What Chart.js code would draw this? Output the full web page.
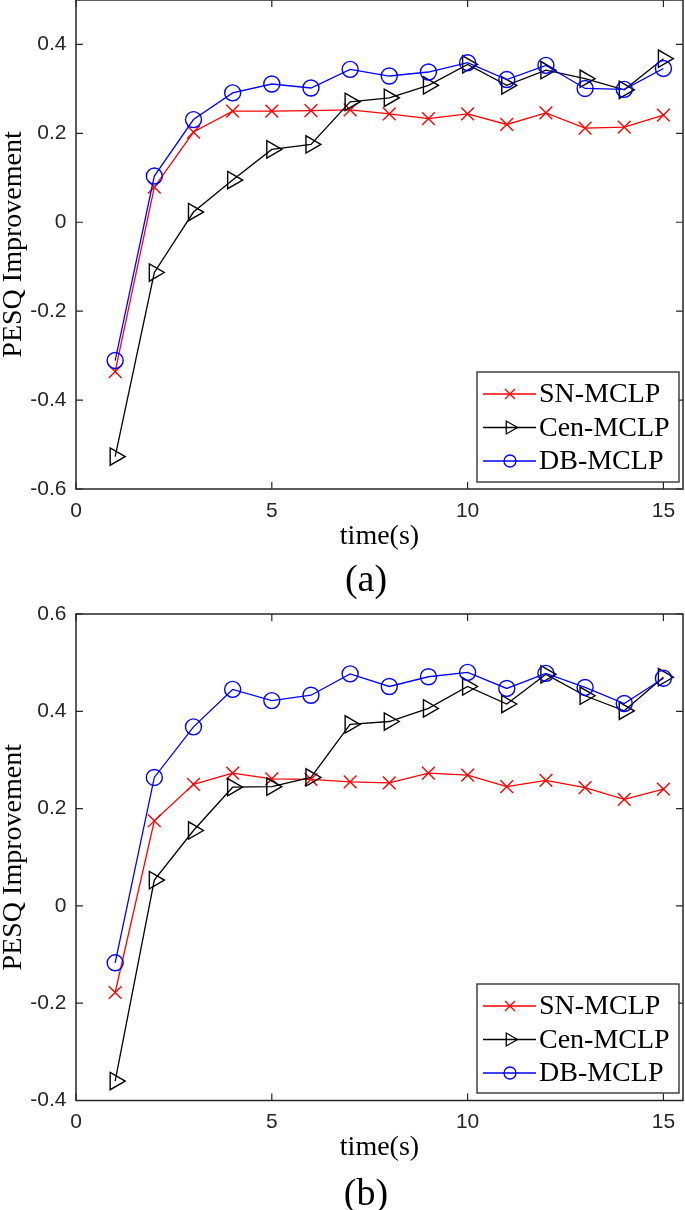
<!DOCTYPE html>
<html><head><meta charset="utf-8">
<script src="https://cdn.jsdelivr.net/npm/chart.js@4/dist/chart.umd.min.js"></script>
<style>
html,body{margin:0;padding:0;background:#fff;}
body{width:685px;height:1210px;position:relative;overflow:hidden;}
.wrap{position:absolute;left:0;width:685px;}
canvas{display:block;}
.cap{position:absolute;left:266px;width:200px;text-align:center;font-family:"Liberation Serif",serif;font-size:38px;color:#000;line-height:38px;}
</style></head><body>
<div class="wrap" style="top:0"><canvas id="ca" width="685" height="600"></canvas></div>
<div class="wrap" style="top:600px"><canvas id="cb" width="685" height="610"></canvas></div>
<div class="cap" style="top:559px">(a)</div>
<div class="cap" style="top:1173px">(b)</div>
<script>
// ---- data ----
const times = [1,2,3,4,5,6,7,8,9,10,11,12,13,14,15];
const seriesNames = ['SN-MCLP','Cen-MCLP','DB-MCLP'];
// panel (a)
const snA  = [-0.336,0.079,0.203,0.250,0.250,0.251,0.253,0.244,0.233,0.244,0.220,0.246,0.212,0.214,0.241];
const cenA = [-0.527,-0.113,0.023,0.095,0.164,0.175,0.271,0.280,0.308,0.355,0.308,0.342,0.323,0.298,0.368];
const dbA  = [-0.311,0.104,0.231,0.291,0.311,0.302,0.344,0.329,0.338,0.359,0.321,0.353,0.301,0.299,0.346];
// panel (b)
const snB  = [-0.178,0.175,0.250,0.273,0.261,0.260,0.255,0.253,0.273,0.269,0.245,0.258,0.243,0.219,0.240];
const cenB = [-0.360,0.053,0.155,0.244,0.245,0.264,0.373,0.379,0.406,0.451,0.415,0.476,0.432,0.401,0.470];
const dbB  = [-0.117,0.264,0.368,0.445,0.422,0.433,0.477,0.451,0.471,0.480,0.447,0.478,0.449,0.416,0.468];
// tick labels
const xTicks  = [0,5,10,15];
const yTicksA = [-0.6,-0.4,-0.2,0,0.2,0.4];
const yTicksB = [-0.4,-0.2,0,0.2,0.4,0.6];
const xLabel = 'time(s)';
const yLabel = 'PESQ Improvement';

// ---- styles ----
const colors = ['#ff0000','#000000','#0000ff'];
const styles = ['crossRot','triangle','circle'];
const rotations = [0,90,0];
const radii = [9,10,8];
const axisColor = '#262626';

function drawMarker(ctx, style, x, y, r){
  ctx.beginPath();
  if(style==='crossRot'){
    const d = r*0.7071;
    ctx.moveTo(x-d,y-d); ctx.lineTo(x+d,y+d);
    ctx.moveTo(x-d,y+d); ctx.lineTo(x+d,y-d);
    ctx.stroke();
  } else if(style==='triangle'){
    ctx.moveTo(x+r,y);
    ctx.lineTo(x-r/2,y-r*0.866);
    ctx.lineTo(x-r/2,y+r*0.866);
    ctx.closePath(); ctx.stroke();
  } else {
    ctx.arc(x,y,r,0,Math.PI*2); ctx.stroke();
  }
}

const frameTicks = {
  id:'frameTicks',
  afterDraw(chart, args, opts){
    const ctx = chart.ctx, a = chart.chartArea;
    const xs = chart.scales.x, ys = chart.scales.y;
    ctx.save();
    ctx.strokeStyle = axisColor; ctx.lineWidth = 1.5;
    ctx.strokeRect(a.left, a.top, a.right-a.left, a.bottom-a.top);
    ctx.lineWidth = 1.2;
    const L = 7;
    ctx.beginPath();
    xs.ticks.forEach(t=>{
      const px = xs.getPixelForValue(t.value);
      ctx.moveTo(px,a.bottom); ctx.lineTo(px,a.bottom-L);
      ctx.moveTo(px,a.top); ctx.lineTo(px,a.top+L);
    });
    ys.ticks.forEach(t=>{
      const py = ys.getPixelForValue(t.value);
      ctx.moveTo(a.left,py); ctx.lineTo(a.left+L,py);
      ctx.moveTo(a.right,py); ctx.lineTo(a.right-L,py);
    });
    ctx.stroke();
    // legend
    const lg = opts.legend;
    ctx.fillStyle = '#fff';
    ctx.fillRect(lg.x, lg.y, lg.w, lg.h);
    ctx.strokeStyle = axisColor; ctx.lineWidth = 1.3;
    ctx.strokeRect(lg.x, lg.y, lg.w, lg.h);
    ctx.font = '28px "Liberation Serif"';
    ctx.textBaseline = 'middle'; ctx.textAlign = 'left';
    chart.data.datasets.forEach((ds,i)=>{
      const cy = lg.y + lg.rowTop + i*lg.rowGap;
      ctx.strokeStyle = ds.borderColor; ctx.lineWidth = 1.3;
      ctx.beginPath(); ctx.moveTo(lg.x+6,cy); ctx.lineTo(lg.x+59,cy); ctx.stroke();
      drawMarker(ctx, ds.pointStyle, lg.x+33, cy, lg.markR[i]);
      ctx.fillStyle = '#000';
      ctx.fillText(ds.label, lg.x+62, cy+1);
    });
    ctx.restore();
  }
};

function makeChart(id, sets, yTicks, yMin, yMax, o){
  return new Chart(document.getElementById(id), {
    type:'line',
    data:{ datasets: sets.map((s,i)=>({
      label: seriesNames[i],
      data: times.map((t,j)=>({x:t, y:s[j]})),
      borderColor: colors[i], backgroundColor:'rgba(0,0,0,0)',
      borderWidth:1.3, tension:0, fill:false,
      pointStyle: styles[i], pointRotation: rotations[i], pointRadius: radii[i],
      pointBorderWidth:1.4, pointBorderColor: colors[i], pointBackgroundColor:'rgba(0,0,0,0)',
      order: 3-i, clip:false
    }))},
    options:{
      responsive:false, animation:false, devicePixelRatio:1,
      layout:{autoPadding:false, padding:{left:0,right:2,top:o.top,bottom:0}},
      plugins:{legend:{display:false}, tooltip:{enabled:false}, frameTicks:{legend:o.legend}},
      scales:{
        x:{type:'linear', min:0, max:15.5,
          afterBuildTicks: s=>{ s.ticks = xTicks.map(v=>({value:v})); },
          afterFit: s=>{ s.height = o.xh; s.paddingLeft=0; s.paddingRight=0; },
          grid:{display:false, drawTicks:false}, border:{display:false},
          ticks:{padding:9.5, color:axisColor, font:{family:'Liberation Sans', size:21}, maxRotation:0, autoSkip:false, callback:v=>String(v)},
          title:{display:true, text:xLabel, color:'#000', font:{family:'Liberation Serif', size:28, lineHeight:1.2}, padding:{top:0,bottom:o.xtp}}
        },
        y:{type:'linear', min:yMin, max:yMax,
          afterBuildTicks: s=>{ s.ticks = yTicks.map(v=>({value:v})); },
          afterFit: s=>{ s.width = 76; s.paddingTop=0; s.paddingBottom=0; },
          grid:{display:false, drawTicks:false}, border:{display:false},
          ticks:{padding:9.5, color:axisColor, font:{family:'Liberation Sans', size:21}, autoSkip:false, callback:v=>String(v)},
          title:{display:true, text:yLabel, color:'#000', font:{family:'Liberation Serif', size:28, lineHeight:1}, padding:{top:0,bottom:0}}
        }
      }
    },
    plugins:[frameTicks]
  });
}

makeChart('ca', [snA,cenA,dbA], yTicksA, -0.6, 0.5,
  {top:0, xh:111, xtp:46.2, legend:{x:477,y:372,w:202,h:110,rowTop:22,rowGap:33.5,markR:[7,7.5,6]}});
makeChart('cb', [snB,cenB,dbB], yTicksB, -0.4, 0.6,
  {top:14, xh:109.5, xtp:45.2, legend:{x:477,y:384,w:202,h:109,rowTop:22,rowGap:33.5,markR:[7,7.5,6]}});
</script>
</body></html>
